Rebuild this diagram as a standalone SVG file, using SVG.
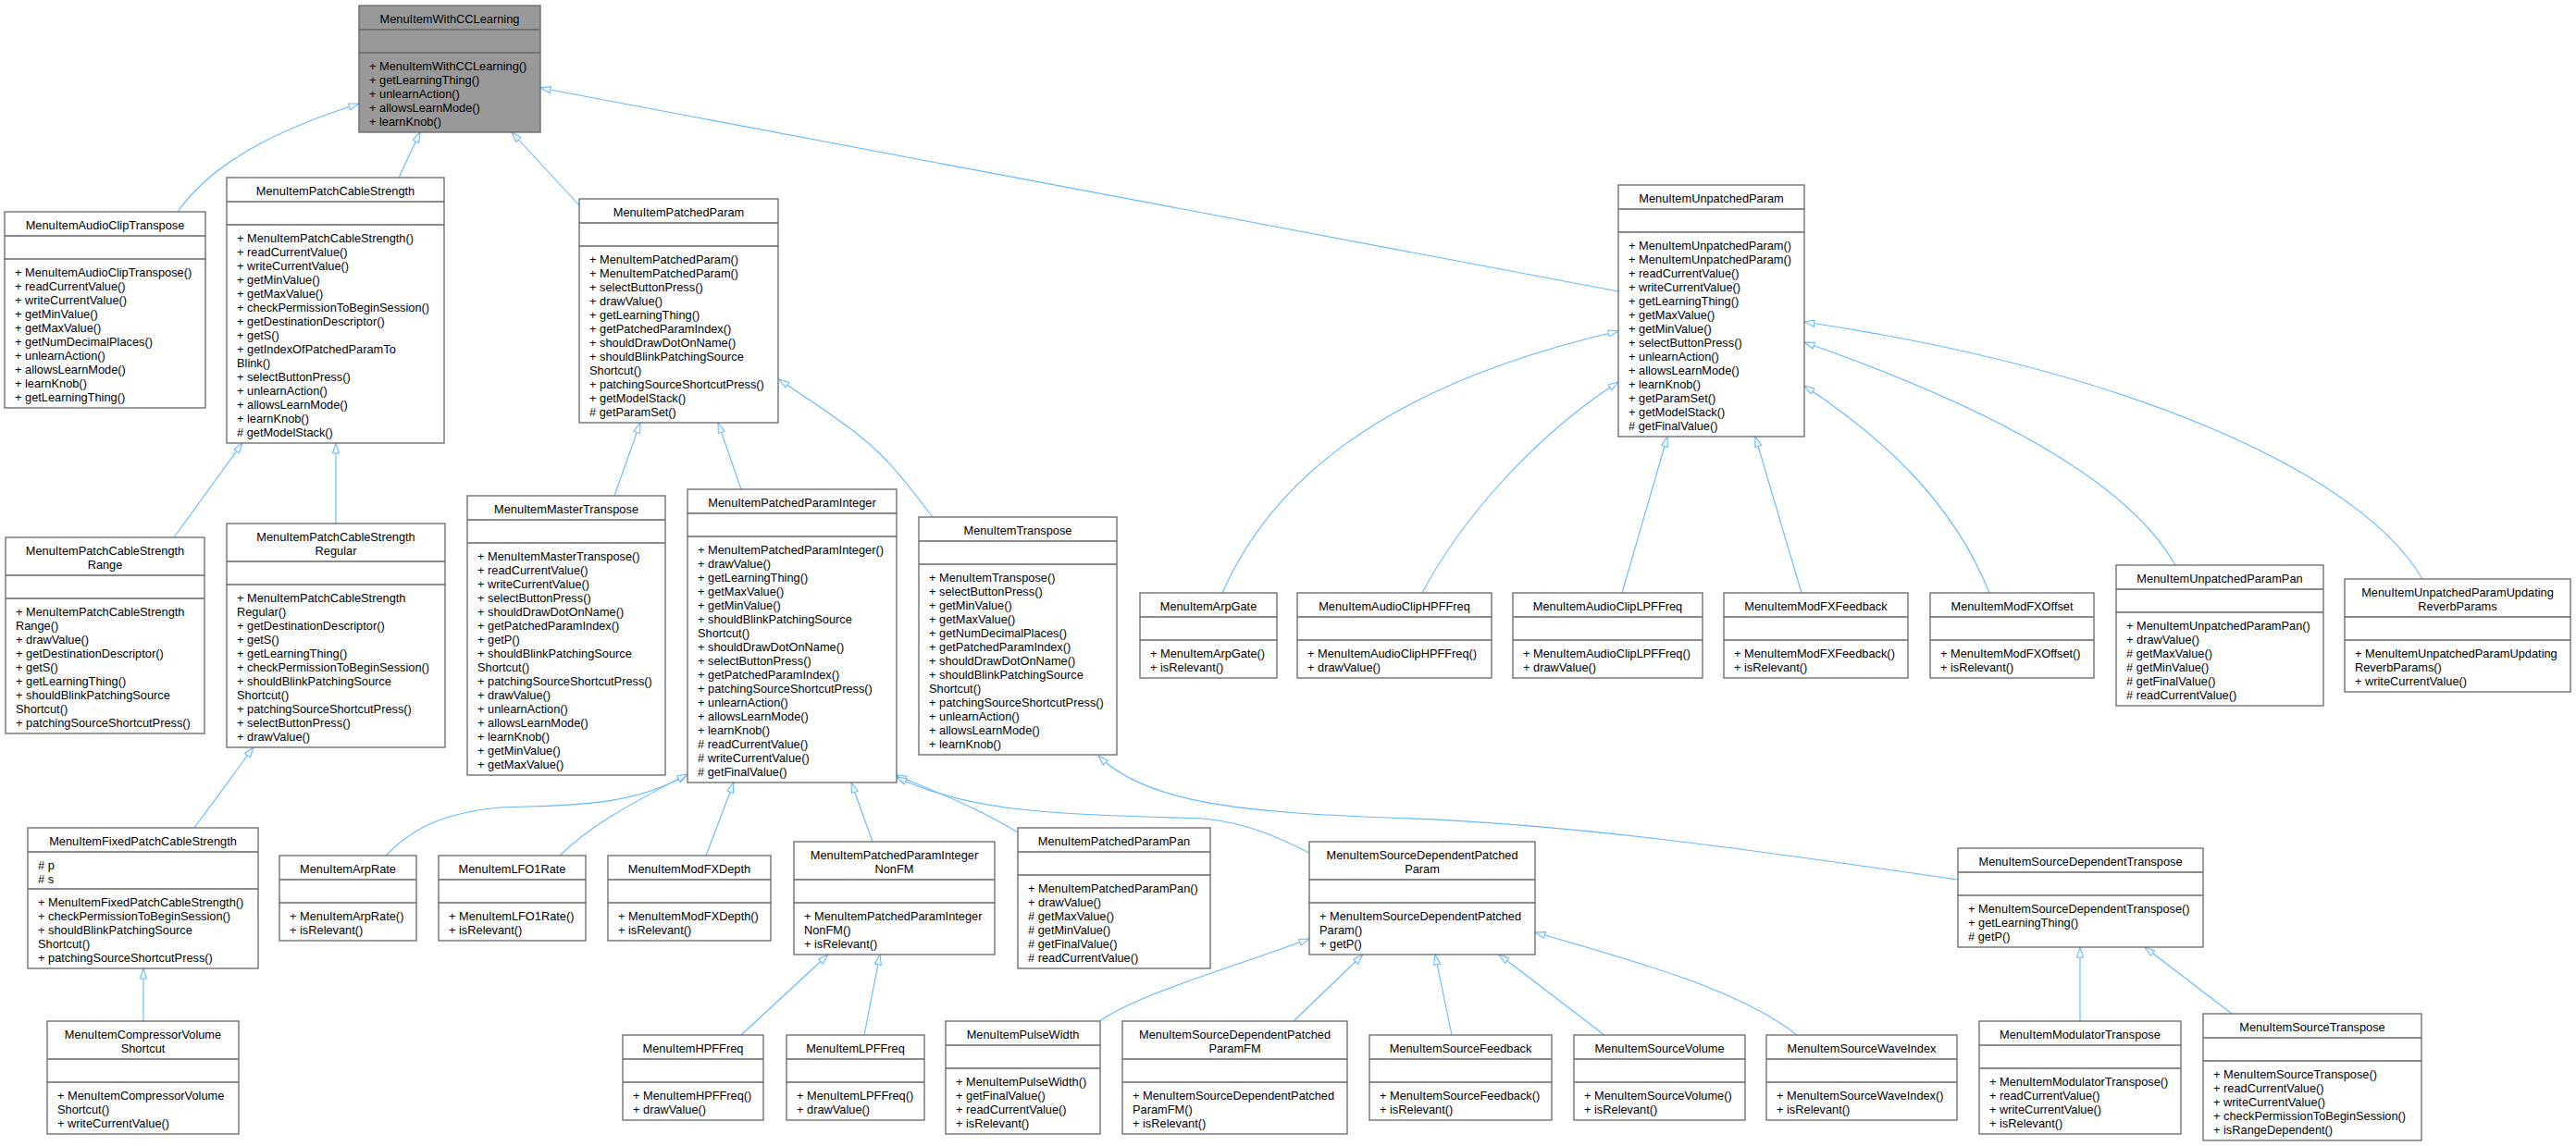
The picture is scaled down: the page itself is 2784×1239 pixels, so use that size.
<svg xmlns="http://www.w3.org/2000/svg" width="2784" height="1239" viewBox="0 0 2784 1239">
<defs>
<style>
rect{fill:#fff;stroke:#666;stroke-width:1.3}
line.s{stroke:#666;stroke-width:1.3}
#root rect{fill:#999}
text{font-family:"Liberation Sans",Arial,sans-serif;font-size:12.8px;fill:#000}
text.t{text-anchor:middle}
.e path{fill:none;stroke:#63b8ff;stroke-width:1.1;marker-end:url(#tri)}
</style>
<marker id="tri" viewBox="0 0 12 8" refX="11.5" refY="4" markerWidth="12" markerHeight="8" markerUnits="userSpaceOnUse" orient="auto"><path d="M0.5,0.5 L11.5,4 L0.5,7.5 z" fill="#fff" stroke="#63b8ff" stroke-width="1.1"/></marker>
</defs>
<rect x="0" y="0" width="2784" height="1239" style="fill:#fff;stroke:none"/>
<g class="e" id="edges">
<path d="M192,229 C230,175 300,140 388,112"/>
<path d="M431,192 L454,143"/>
<path d="M626,222 L553,143"/>
<path d="M1749,315 L584,95"/>
<path d="M188,581 L262,479"/>
<path d="M363,566 L363,479"/>
<path d="M210,895 L274,808"/>
<path d="M155,1104 L155,1047"/>
<path d="M664,536 L692,457"/>
<path d="M801,529 L776,457"/>
<path d="M1008,559 C985,530 965,500 930,472 C900,448 870,430 842,410"/>
<path d="M1321,641 C1370,530 1480,420 1749,358"/>
<path d="M1537,641 C1580,560 1660,470 1749,413"/>
<path d="M1753,641 L1802,472"/>
<path d="M1947,641 L1897,472"/>
<path d="M2150,641 C2110,540 2030,470 1950,417"/>
<path d="M2351,611 C2300,520 2150,440 1950,370"/>
<path d="M2618,626 C2550,510 2300,400 1950,348"/>
<path d="M417,925 C450,890 490,878 540,873 C600,870 680,875 743,837"/>
<path d="M605,925 C640,890 690,865 743,837"/>
<path d="M763,925 L793,846"/>
<path d="M943,910 L920,846"/>
<path d="M1100,900 C1060,875 1020,860 969,838"/>
<path d="M1415,922 C1380,905 1350,890 1300,885 C1150,880 1050,880 969,840"/>
<path d="M2116,951 C1900,920 1700,890 1500,884 C1350,878 1240,870 1187,817"/>
<path d="M801,1119 L895,1032"/>
<path d="M934,1119 L951,1032"/>
<path d="M1188,1104 C1230,1075 1320,1050 1415,1015"/>
<path d="M1398,1104 L1473,1032"/>
<path d="M1569,1119 L1551,1032"/>
<path d="M1734,1119 L1620,1032"/>
<path d="M1942,1119 C1880,1070 1770,1040 1659,1008"/>
<path d="M2248,1104 L2248,1024"/>
<path d="M2412,1096 L2318,1024"/>
</g>

<g id="root"><rect x="388" y="6" width="196" height="137"/><line class="s" x1="388" y1="32" x2="584" y2="32"/><line class="s" x1="388" y1="57" x2="584" y2="57"/>
<text class="t" x="486" y="24.5">MenuItemWithCCLearning</text>
<text x="399" y="75.5"><tspan x="399">+ MenuItemWithCCLearning()</tspan><tspan x="399" dy="15">+ getLearningThing()</tspan><tspan x="399" dy="15">+ unlearnAction()</tspan><tspan x="399" dy="15">+ allowsLearnMode()</tspan><tspan x="399" dy="15">+ learnKnob()</tspan></text></g>

<g id="audioClipTranspose"><rect x="5" y="229" width="217" height="212"/><line class="s" x1="5" y1="255" x2="222" y2="255"/><line class="s" x1="5" y1="280" x2="222" y2="280"/>
<text class="t" x="113.5" y="247.5">MenuItemAudioClipTranspose</text>
<text x="16" y="298.5"><tspan x="16">+ MenuItemAudioClipTranspose()</tspan><tspan x="16" dy="15">+ readCurrentValue()</tspan><tspan x="16" dy="15">+ writeCurrentValue()</tspan><tspan x="16" dy="15">+ getMinValue()</tspan><tspan x="16" dy="15">+ getMaxValue()</tspan><tspan x="16" dy="15">+ getNumDecimalPlaces()</tspan><tspan x="16" dy="15">+ unlearnAction()</tspan><tspan x="16" dy="15">+ allowsLearnMode()</tspan><tspan x="16" dy="15">+ learnKnob()</tspan><tspan x="16" dy="15">+ getLearningThing()</tspan></text></g>

<g id="patchCableStrength"><rect x="245" y="192" width="235" height="287"/><line class="s" x1="245" y1="218" x2="480" y2="218"/><line class="s" x1="245" y1="243" x2="480" y2="243"/>
<text class="t" x="362.5" y="210.5">MenuItemPatchCableStrength</text>
<text x="256" y="261.5"><tspan x="256">+ MenuItemPatchCableStrength()</tspan><tspan x="256" dy="15">+ readCurrentValue()</tspan><tspan x="256" dy="15">+ writeCurrentValue()</tspan><tspan x="256" dy="15">+ getMinValue()</tspan><tspan x="256" dy="15">+ getMaxValue()</tspan><tspan x="256" dy="15">+ checkPermissionToBeginSession()</tspan><tspan x="256" dy="15">+ getDestinationDescriptor()</tspan><tspan x="256" dy="15">+ getS()</tspan><tspan x="256" dy="15">+ getIndexOfPatchedParamTo</tspan><tspan x="256" dy="15">Blink()</tspan><tspan x="256" dy="15">+ selectButtonPress()</tspan><tspan x="256" dy="15">+ unlearnAction()</tspan><tspan x="256" dy="15">+ allowsLearnMode()</tspan><tspan x="256" dy="15">+ learnKnob()</tspan><tspan x="256" dy="15"># getModelStack()</tspan></text></g>

<g id="patchedParam"><rect x="626" y="215" width="215" height="242"/><line class="s" x1="626" y1="241" x2="841" y2="241"/><line class="s" x1="626" y1="266" x2="841" y2="266"/>
<text class="t" x="733.5" y="233.5">MenuItemPatchedParam</text>
<text x="637" y="284.5"><tspan x="637">+ MenuItemPatchedParam()</tspan><tspan x="637" dy="15">+ MenuItemPatchedParam()</tspan><tspan x="637" dy="15">+ selectButtonPress()</tspan><tspan x="637" dy="15">+ drawValue()</tspan><tspan x="637" dy="15">+ getLearningThing()</tspan><tspan x="637" dy="15">+ getPatchedParamIndex()</tspan><tspan x="637" dy="15">+ shouldDrawDotOnName()</tspan><tspan x="637" dy="15">+ shouldBlinkPatchingSource</tspan><tspan x="637" dy="15">Shortcut()</tspan><tspan x="637" dy="15">+ patchingSourceShortcutPress()</tspan><tspan x="637" dy="15">+ getModelStack()</tspan><tspan x="637" dy="15"># getParamSet()</tspan></text></g>

<g id="unpatchedParam"><rect x="1749" y="200" width="201" height="272"/><line class="s" x1="1749" y1="226" x2="1950" y2="226"/><line class="s" x1="1749" y1="251" x2="1950" y2="251"/>
<text class="t" x="1849.5" y="218.5">MenuItemUnpatchedParam</text>
<text x="1760" y="269.5"><tspan x="1760">+ MenuItemUnpatchedParam()</tspan><tspan x="1760" dy="15">+ MenuItemUnpatchedParam()</tspan><tspan x="1760" dy="15">+ readCurrentValue()</tspan><tspan x="1760" dy="15">+ writeCurrentValue()</tspan><tspan x="1760" dy="15">+ getLearningThing()</tspan><tspan x="1760" dy="15">+ getMaxValue()</tspan><tspan x="1760" dy="15">+ getMinValue()</tspan><tspan x="1760" dy="15">+ selectButtonPress()</tspan><tspan x="1760" dy="15">+ unlearnAction()</tspan><tspan x="1760" dy="15">+ allowsLearnMode()</tspan><tspan x="1760" dy="15">+ learnKnob()</tspan><tspan x="1760" dy="15">+ getParamSet()</tspan><tspan x="1760" dy="15">+ getModelStack()</tspan><tspan x="1760" dy="15"># getFinalValue()</tspan></text></g>

<g id="pcsRange"><rect x="6" y="581" width="215" height="212"/><line class="s" x1="6" y1="622" x2="221" y2="622"/><line class="s" x1="6" y1="647" x2="221" y2="647"/>
<text class="t" x="113.5" y="599.5"><tspan x="113.5">MenuItemPatchCableStrength</tspan><tspan x="113.5" dy="15">Range</tspan></text>
<text x="17" y="665.5"><tspan x="17">+ MenuItemPatchCableStrength</tspan><tspan x="17" dy="15">Range()</tspan><tspan x="17" dy="15">+ drawValue()</tspan><tspan x="17" dy="15">+ getDestinationDescriptor()</tspan><tspan x="17" dy="15">+ getS()</tspan><tspan x="17" dy="15">+ getLearningThing()</tspan><tspan x="17" dy="15">+ shouldBlinkPatchingSource</tspan><tspan x="17" dy="15">Shortcut()</tspan><tspan x="17" dy="15">+ patchingSourceShortcutPress()</tspan></text></g>

<g id="pcsRegular"><rect x="245" y="566" width="236" height="242"/><line class="s" x1="245" y1="607" x2="481" y2="607"/><line class="s" x1="245" y1="632" x2="481" y2="632"/>
<text class="t" x="363" y="584.5"><tspan x="363">MenuItemPatchCableStrength</tspan><tspan x="363" dy="15">Regular</tspan></text>
<text x="256" y="650.5"><tspan x="256">+ MenuItemPatchCableStrength</tspan><tspan x="256" dy="15">Regular()</tspan><tspan x="256" dy="15">+ getDestinationDescriptor()</tspan><tspan x="256" dy="15">+ getS()</tspan><tspan x="256" dy="15">+ getLearningThing()</tspan><tspan x="256" dy="15">+ checkPermissionToBeginSession()</tspan><tspan x="256" dy="15">+ shouldBlinkPatchingSource</tspan><tspan x="256" dy="15">Shortcut()</tspan><tspan x="256" dy="15">+ patchingSourceShortcutPress()</tspan><tspan x="256" dy="15">+ selectButtonPress()</tspan><tspan x="256" dy="15">+ drawValue()</tspan></text></g>

<g id="fixedPcs"><rect x="30" y="895" width="249" height="152"/><line class="s" x1="30" y1="921" x2="279" y2="921"/><line class="s" x1="30" y1="961" x2="279" y2="961"/>
<text class="t" x="154.5" y="913.5">MenuItemFixedPatchCableStrength</text>
<text x="41" y="939.5"><tspan x="41"># p</tspan><tspan x="41" dy="15"># s</tspan></text>
<text x="41" y="979.5"><tspan x="41">+ MenuItemFixedPatchCableStrength()</tspan><tspan x="41" dy="15">+ checkPermissionToBeginSession()</tspan><tspan x="41" dy="15">+ shouldBlinkPatchingSource</tspan><tspan x="41" dy="15">Shortcut()</tspan><tspan x="41" dy="15">+ patchingSourceShortcutPress()</tspan></text></g>

<g id="compressor"><rect x="51" y="1104" width="207" height="122"/><line class="s" x1="51" y1="1145" x2="258" y2="1145"/><line class="s" x1="51" y1="1170" x2="258" y2="1170"/>
<text class="t" x="154.5" y="1122.5"><tspan x="154.5">MenuItemCompressorVolume</tspan><tspan x="154.5" dy="15">Shortcut</tspan></text>
<text x="62" y="1188.5"><tspan x="62">+ MenuItemCompressorVolume</tspan><tspan x="62" dy="15">Shortcut()</tspan><tspan x="62" dy="15">+ writeCurrentValue()</tspan></text></g>

<g id="masterTranspose"><rect x="505" y="536" width="214" height="302"/><line class="s" x1="505" y1="562" x2="719" y2="562"/><line class="s" x1="505" y1="587" x2="719" y2="587"/>
<text class="t" x="612" y="554.5">MenuItemMasterTranspose</text>
<text x="516" y="605.5"><tspan x="516">+ MenuItemMasterTranspose()</tspan><tspan x="516" dy="15">+ readCurrentValue()</tspan><tspan x="516" dy="15">+ writeCurrentValue()</tspan><tspan x="516" dy="15">+ selectButtonPress()</tspan><tspan x="516" dy="15">+ shouldDrawDotOnName()</tspan><tspan x="516" dy="15">+ getPatchedParamIndex()</tspan><tspan x="516" dy="15">+ getP()</tspan><tspan x="516" dy="15">+ shouldBlinkPatchingSource</tspan><tspan x="516" dy="15">Shortcut()</tspan><tspan x="516" dy="15">+ patchingSourceShortcutPress()</tspan><tspan x="516" dy="15">+ drawValue()</tspan><tspan x="516" dy="15">+ unlearnAction()</tspan><tspan x="516" dy="15">+ allowsLearnMode()</tspan><tspan x="516" dy="15">+ learnKnob()</tspan><tspan x="516" dy="15">+ getMinValue()</tspan><tspan x="516" dy="15">+ getMaxValue()</tspan></text></g>

<g id="ppInteger"><rect x="743" y="529" width="226" height="317"/><line class="s" x1="743" y1="555" x2="969" y2="555"/><line class="s" x1="743" y1="580" x2="969" y2="580"/>
<text class="t" x="856" y="547.5">MenuItemPatchedParamInteger</text>
<text x="754" y="598.5"><tspan x="754">+ MenuItemPatchedParamInteger()</tspan><tspan x="754" dy="15">+ drawValue()</tspan><tspan x="754" dy="15">+ getLearningThing()</tspan><tspan x="754" dy="15">+ getMaxValue()</tspan><tspan x="754" dy="15">+ getMinValue()</tspan><tspan x="754" dy="15">+ shouldBlinkPatchingSource</tspan><tspan x="754" dy="15">Shortcut()</tspan><tspan x="754" dy="15">+ shouldDrawDotOnName()</tspan><tspan x="754" dy="15">+ selectButtonPress()</tspan><tspan x="754" dy="15">+ getPatchedParamIndex()</tspan><tspan x="754" dy="15">+ patchingSourceShortcutPress()</tspan><tspan x="754" dy="15">+ unlearnAction()</tspan><tspan x="754" dy="15">+ allowsLearnMode()</tspan><tspan x="754" dy="15">+ learnKnob()</tspan><tspan x="754" dy="15"># readCurrentValue()</tspan><tspan x="754" dy="15"># writeCurrentValue()</tspan><tspan x="754" dy="15"># getFinalValue()</tspan></text></g>

<g id="transpose"><rect x="993" y="559" width="214" height="257"/><line class="s" x1="993" y1="585" x2="1207" y2="585"/><line class="s" x1="993" y1="610" x2="1207" y2="610"/>
<text class="t" x="1100" y="577.5">MenuItemTranspose</text>
<text x="1004" y="628.5"><tspan x="1004">+ MenuItemTranspose()</tspan><tspan x="1004" dy="15">+ selectButtonPress()</tspan><tspan x="1004" dy="15">+ getMinValue()</tspan><tspan x="1004" dy="15">+ getMaxValue()</tspan><tspan x="1004" dy="15">+ getNumDecimalPlaces()</tspan><tspan x="1004" dy="15">+ getPatchedParamIndex()</tspan><tspan x="1004" dy="15">+ shouldDrawDotOnName()</tspan><tspan x="1004" dy="15">+ shouldBlinkPatchingSource</tspan><tspan x="1004" dy="15">Shortcut()</tspan><tspan x="1004" dy="15">+ patchingSourceShortcutPress()</tspan><tspan x="1004" dy="15">+ unlearnAction()</tspan><tspan x="1004" dy="15">+ allowsLearnMode()</tspan><tspan x="1004" dy="15">+ learnKnob()</tspan></text></g>

<g id="arpGate"><rect x="1232" y="641" width="148" height="92"/><line class="s" x1="1232" y1="667" x2="1380" y2="667"/><line class="s" x1="1232" y1="692" x2="1380" y2="692"/>
<text class="t" x="1306" y="659.5">MenuItemArpGate</text>
<text x="1243" y="710.5"><tspan x="1243">+ MenuItemArpGate()</tspan><tspan x="1243" dy="15">+ isRelevant()</tspan></text></g>

<g id="audioClipHPF"><rect x="1402" y="641" width="210" height="92"/><line class="s" x1="1402" y1="667" x2="1612" y2="667"/><line class="s" x1="1402" y1="692" x2="1612" y2="692"/>
<text class="t" x="1507" y="659.5">MenuItemAudioClipHPFFreq</text>
<text x="1413" y="710.5"><tspan x="1413">+ MenuItemAudioClipHPFFreq()</tspan><tspan x="1413" dy="15">+ drawValue()</tspan></text></g>

<g id="audioClipLPF"><rect x="1635" y="641" width="205" height="92"/><line class="s" x1="1635" y1="667" x2="1840" y2="667"/><line class="s" x1="1635" y1="692" x2="1840" y2="692"/>
<text class="t" x="1737.5" y="659.5">MenuItemAudioClipLPFFreq</text>
<text x="1646" y="710.5"><tspan x="1646">+ MenuItemAudioClipLPFFreq()</tspan><tspan x="1646" dy="15">+ drawValue()</tspan></text></g>

<g id="modFXFeedback"><rect x="1863" y="641" width="199" height="92"/><line class="s" x1="1863" y1="667" x2="2062" y2="667"/><line class="s" x1="1863" y1="692" x2="2062" y2="692"/>
<text class="t" x="1962.5" y="659.5">MenuItemModFXFeedback</text>
<text x="1874" y="710.5"><tspan x="1874">+ MenuItemModFXFeedback()</tspan><tspan x="1874" dy="15">+ isRelevant()</tspan></text></g>

<g id="modFXOffset"><rect x="2086" y="641" width="177" height="92"/><line class="s" x1="2086" y1="667" x2="2263" y2="667"/><line class="s" x1="2086" y1="692" x2="2263" y2="692"/>
<text class="t" x="2174.5" y="659.5">MenuItemModFXOffset</text>
<text x="2097" y="710.5"><tspan x="2097">+ MenuItemModFXOffset()</tspan><tspan x="2097" dy="15">+ isRelevant()</tspan></text></g>

<g id="unpatchedPan"><rect x="2287" y="611" width="224" height="152"/><line class="s" x1="2287" y1="637" x2="2511" y2="637"/><line class="s" x1="2287" y1="662" x2="2511" y2="662"/>
<text class="t" x="2399" y="629.5">MenuItemUnpatchedParamPan</text>
<text x="2298" y="680.5"><tspan x="2298">+ MenuItemUnpatchedParamPan()</tspan><tspan x="2298" dy="15">+ drawValue()</tspan><tspan x="2298" dy="15"># getMaxValue()</tspan><tspan x="2298" dy="15"># getMinValue()</tspan><tspan x="2298" dy="15"># getFinalValue()</tspan><tspan x="2298" dy="15"># readCurrentValue()</tspan></text></g>

<g id="unpatchedReverb"><rect x="2534" y="626" width="244" height="122"/><line class="s" x1="2534" y1="667" x2="2778" y2="667"/><line class="s" x1="2534" y1="692" x2="2778" y2="692"/>
<text class="t" x="2656" y="644.5"><tspan x="2656">MenuItemUnpatchedParamUpdating</tspan><tspan x="2656" dy="15">ReverbParams</tspan></text>
<text x="2545" y="710.5"><tspan x="2545">+ MenuItemUnpatchedParamUpdating</tspan><tspan x="2545" dy="15">ReverbParams()</tspan><tspan x="2545" dy="15">+ writeCurrentValue()</tspan></text></g>

<g id="arpRate"><rect x="302" y="925" width="148" height="92"/><line class="s" x1="302" y1="951" x2="450" y2="951"/><line class="s" x1="302" y1="976" x2="450" y2="976"/>
<text class="t" x="376" y="943.5">MenuItemArpRate</text>
<text x="313" y="994.5"><tspan x="313">+ MenuItemArpRate()</tspan><tspan x="313" dy="15">+ isRelevant()</tspan></text></g>

<g id="lfo1Rate"><rect x="474" y="925" width="159" height="92"/><line class="s" x1="474" y1="951" x2="633" y2="951"/><line class="s" x1="474" y1="976" x2="633" y2="976"/>
<text class="t" x="553.5" y="943.5">MenuItemLFO1Rate</text>
<text x="485" y="994.5"><tspan x="485">+ MenuItemLFO1Rate()</tspan><tspan x="485" dy="15">+ isRelevant()</tspan></text></g>

<g id="modFXDepth"><rect x="657" y="925" width="176" height="92"/><line class="s" x1="657" y1="951" x2="833" y2="951"/><line class="s" x1="657" y1="976" x2="833" y2="976"/>
<text class="t" x="745" y="943.5">MenuItemModFXDepth</text>
<text x="668" y="994.5"><tspan x="668">+ MenuItemModFXDepth()</tspan><tspan x="668" dy="15">+ isRelevant()</tspan></text></g>

<g id="ppIntegerNonFM"><rect x="858" y="910" width="217" height="122"/><line class="s" x1="858" y1="951" x2="1075" y2="951"/><line class="s" x1="858" y1="976" x2="1075" y2="976"/>
<text class="t" x="966.5" y="928.5"><tspan x="966.5">MenuItemPatchedParamInteger</tspan><tspan x="966.5" dy="15">NonFM</tspan></text>
<text x="869" y="994.5"><tspan x="869">+ MenuItemPatchedParamInteger</tspan><tspan x="869" dy="15">NonFM()</tspan><tspan x="869" dy="15">+ isRelevant()</tspan></text></g>

<g id="ppPan"><rect x="1100" y="895" width="208" height="152"/><line class="s" x1="1100" y1="921" x2="1308" y2="921"/><line class="s" x1="1100" y1="946" x2="1308" y2="946"/>
<text class="t" x="1204" y="913.5">MenuItemPatchedParamPan</text>
<text x="1111" y="964.5"><tspan x="1111">+ MenuItemPatchedParamPan()</tspan><tspan x="1111" dy="15">+ drawValue()</tspan><tspan x="1111" dy="15"># getMaxValue()</tspan><tspan x="1111" dy="15"># getMinValue()</tspan><tspan x="1111" dy="15"># getFinalValue()</tspan><tspan x="1111" dy="15"># readCurrentValue()</tspan></text></g>

<g id="sdpp"><rect x="1415" y="910" width="244" height="122"/><line class="s" x1="1415" y1="951" x2="1659" y2="951"/><line class="s" x1="1415" y1="976" x2="1659" y2="976"/>
<text class="t" x="1537" y="928.5"><tspan x="1537">MenuItemSourceDependentPatched</tspan><tspan x="1537" dy="15">Param</tspan></text>
<text x="1426" y="994.5"><tspan x="1426">+ MenuItemSourceDependentPatched</tspan><tspan x="1426" dy="15">Param()</tspan><tspan x="1426" dy="15">+ getP()</tspan></text></g>

<g id="sdTranspose"><rect x="2116" y="917" width="265" height="107"/><line class="s" x1="2116" y1="943" x2="2381" y2="943"/><line class="s" x1="2116" y1="968" x2="2381" y2="968"/>
<text class="t" x="2248.5" y="935.5">MenuItemSourceDependentTranspose</text>
<text x="2127" y="986.5"><tspan x="2127">+ MenuItemSourceDependentTranspose()</tspan><tspan x="2127" dy="15">+ getLearningThing()</tspan><tspan x="2127" dy="15"># getP()</tspan></text></g>

<g id="hpfFreq"><rect x="673" y="1119" width="152" height="92"/><line class="s" x1="673" y1="1145" x2="825" y2="1145"/><line class="s" x1="673" y1="1170" x2="825" y2="1170"/>
<text class="t" x="749" y="1137.5">MenuItemHPFFreq</text>
<text x="684" y="1188.5"><tspan x="684">+ MenuItemHPFFreq()</tspan><tspan x="684" dy="15">+ drawValue()</tspan></text></g>

<g id="lpfFreq"><rect x="850" y="1119" width="149" height="92"/><line class="s" x1="850" y1="1145" x2="999" y2="1145"/><line class="s" x1="850" y1="1170" x2="999" y2="1170"/>
<text class="t" x="924.5" y="1137.5">MenuItemLPFFreq</text>
<text x="861" y="1188.5"><tspan x="861">+ MenuItemLPFFreq()</tspan><tspan x="861" dy="15">+ drawValue()</tspan></text></g>

<g id="pulseWidth"><rect x="1022" y="1104" width="167" height="122"/><line class="s" x1="1022" y1="1130" x2="1189" y2="1130"/><line class="s" x1="1022" y1="1155" x2="1189" y2="1155"/>
<text class="t" x="1105.5" y="1122.5">MenuItemPulseWidth</text>
<text x="1033" y="1173.5"><tspan x="1033">+ MenuItemPulseWidth()</tspan><tspan x="1033" dy="15">+ getFinalValue()</tspan><tspan x="1033" dy="15">+ readCurrentValue()</tspan><tspan x="1033" dy="15">+ isRelevant()</tspan></text></g>

<g id="sdppFM"><rect x="1213" y="1104" width="243" height="122"/><line class="s" x1="1213" y1="1145" x2="1456" y2="1145"/><line class="s" x1="1213" y1="1170" x2="1456" y2="1170"/>
<text class="t" x="1334.5" y="1122.5"><tspan x="1334.5">MenuItemSourceDependentPatched</tspan><tspan x="1334.5" dy="15">ParamFM</tspan></text>
<text x="1224" y="1188.5"><tspan x="1224">+ MenuItemSourceDependentPatched</tspan><tspan x="1224" dy="15">ParamFM()</tspan><tspan x="1224" dy="15">+ isRelevant()</tspan></text></g>

<g id="sourceFeedback"><rect x="1480" y="1119" width="197" height="92"/><line class="s" x1="1480" y1="1145" x2="1677" y2="1145"/><line class="s" x1="1480" y1="1170" x2="1677" y2="1170"/>
<text class="t" x="1578.5" y="1137.5">MenuItemSourceFeedback</text>
<text x="1491" y="1188.5"><tspan x="1491">+ MenuItemSourceFeedback()</tspan><tspan x="1491" dy="15">+ isRelevant()</tspan></text></g>

<g id="sourceVolume"><rect x="1701" y="1119" width="185" height="92"/><line class="s" x1="1701" y1="1145" x2="1886" y2="1145"/><line class="s" x1="1701" y1="1170" x2="1886" y2="1170"/>
<text class="t" x="1793.5" y="1137.5">MenuItemSourceVolume</text>
<text x="1712" y="1188.5"><tspan x="1712">+ MenuItemSourceVolume()</tspan><tspan x="1712" dy="15">+ isRelevant()</tspan></text></g>

<g id="sourceWaveIndex"><rect x="1909" y="1119" width="206" height="92"/><line class="s" x1="1909" y1="1145" x2="2115" y2="1145"/><line class="s" x1="1909" y1="1170" x2="2115" y2="1170"/>
<text class="t" x="2012" y="1137.5">MenuItemSourceWaveIndex</text>
<text x="1920" y="1188.5"><tspan x="1920">+ MenuItemSourceWaveIndex()</tspan><tspan x="1920" dy="15">+ isRelevant()</tspan></text></g>

<g id="modulatorTranspose"><rect x="2139" y="1104" width="218" height="122"/><line class="s" x1="2139" y1="1130" x2="2357" y2="1130"/><line class="s" x1="2139" y1="1155" x2="2357" y2="1155"/>
<text class="t" x="2248" y="1122.5">MenuItemModulatorTranspose</text>
<text x="2150" y="1173.5"><tspan x="2150">+ MenuItemModulatorTranspose()</tspan><tspan x="2150" dy="15">+ readCurrentValue()</tspan><tspan x="2150" dy="15">+ writeCurrentValue()</tspan><tspan x="2150" dy="15">+ isRelevant()</tspan></text></g>

<g id="sourceTranspose"><rect x="2381" y="1096" width="236" height="137"/><line class="s" x1="2381" y1="1122" x2="2617" y2="1122"/><line class="s" x1="2381" y1="1147" x2="2617" y2="1147"/>
<text class="t" x="2499" y="1114.5">MenuItemSourceTranspose</text>
<text x="2392" y="1165.5"><tspan x="2392">+ MenuItemSourceTranspose()</tspan><tspan x="2392" dy="15">+ readCurrentValue()</tspan><tspan x="2392" dy="15">+ writeCurrentValue()</tspan><tspan x="2392" dy="15">+ checkPermissionToBeginSession()</tspan><tspan x="2392" dy="15">+ isRangeDependent()</tspan></text></g>
</svg>
